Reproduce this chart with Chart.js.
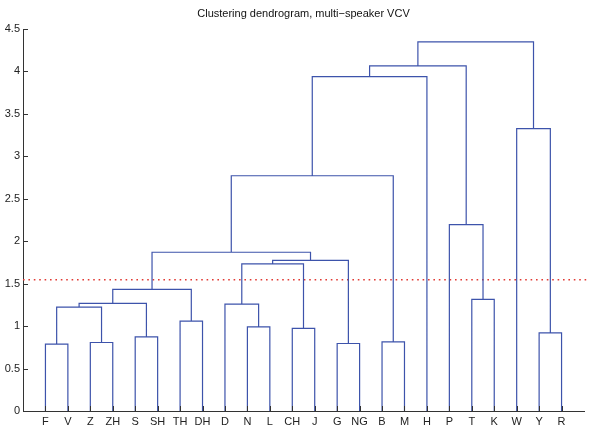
<!DOCTYPE html>
<html>
<head>
<meta charset="utf-8">
<script src="https://cdn.jsdelivr.net/npm/chart.js@4"></script>
<style>
  html, body { margin: 0; padding: 0; background: #fff; }
  #wrap { width: 589px; height: 431px; }
</style>
</head>
<body>
<div id="wrap"><canvas id="myChart" width="589" height="431"></canvas></div>
<script>
// leaf order along the x axis
const leaves = ['F','V','Z','ZH','S','SH','TH','DH','D','N','L','CH','J','G','NG','B','M','H','P','T','K','W','Y','R'];
// merges: left, right, height. numbers < 24 are leaves, 24+ are earlier merges (24 = first merge)
const mergeLeft   = [0, 2, 4, 6, 24, 28, 29,  9,  8, 11, 32, 13, 34, 30, 15, 37, 39, 19, 18, 40, 22, 21, 43];
const mergeRight  = [1, 3, 5, 7, 25, 26, 27, 10, 31, 12, 33, 14, 35, 36, 16, 38, 17, 20, 41, 42, 23, 44, 45];
const mergeHeight = [0.787, 0.807, 0.874, 1.059, 1.224, 1.268, 1.433, 0.992, 1.26, 0.973, 1.732, 0.795, 1.775, 1.87, 0.815, 2.771, 3.94, 1.315, 2.196, 4.066, 0.921, 3.326, 4.349];
const cutoff = 1.547;
const yTicks = [0, 0.5, 1, 1.5, 2, 2.5, 3, 3.5, 4, 4.5];

const TITLE = 'Clustering dendrogram, multi\u2212speaker VCV';
const FONT = 'Arial, "Liberation Sans", Helvetica, sans-serif';

// build the U shapes of the tree
var nodeX = leaves.map((l, i) => i + 1);
var nodeY = leaves.map(() => 0);
var treeData = [];
for (let i = 0; i < mergeHeight.length; i++) {
    let a = mergeLeft[i], b = mergeRight[i], h = mergeHeight[i];
    treeData.push({x: nodeX[a], y: nodeY[a]});
    treeData.push({x: nodeX[a], y: h});
    treeData.push({x: nodeX[b], y: h});
    treeData.push({x: nodeX[b], y: nodeY[b]});
    treeData.push({x: null, y: null});
    nodeX.push((nodeX[a] + nodeX[b]) / 2);
    nodeY.push(h);
}

const titlePlugin = {
    id: 'midTitle',
    afterDraw(chart) {
        const ctx = chart.ctx, a = chart.chartArea;
        ctx.save();
        ctx.font = '11px ' + FONT;
        ctx.fillStyle = '#111';
        ctx.textAlign = 'center';
        ctx.textBaseline = 'middle';
        ctx.fillText(TITLE, (a.left + a.right) / 2, 14);
        ctx.restore();
    }
};

// matlab style ticks pointing into the plot
const inTicks = {
    id: 'inTicks',
    afterDatasetsDraw(chart) {
        const ctx = chart.ctx, a = chart.chartArea;
        const xs = chart.scales.x, ys = chart.scales.y;
        ctx.save();
        ctx.strokeStyle = '#333';
        ctx.lineWidth = 1;
        ctx.beginPath();
        yTicks.forEach(v => {
            let p = Math.round(ys.getPixelForValue(v)) + 0.5;
            ctx.moveTo(a.left, p);
            ctx.lineTo(a.left + 5, p);
        });
        leaves.forEach((l, i) => {
            let p = Math.round(xs.getPixelForValue(i + 1)) + 0.5;
            ctx.moveTo(p, a.bottom);
            ctx.lineTo(p, a.bottom - 5);
        });
        ctx.stroke();
        ctx.restore();
    }
};

const CTX = document.getElementById('myChart').getContext('2d');
const CONFIG = {
    type: 'line',
    data: {
        datasets: [{
            data: treeData,
            borderColor: '#3d53ab',
            borderWidth: 1.2,
            pointRadius: 0,
            spanGaps: false,
            tension: 0
        }, {
            data: [{x: 0, y: cutoff}, {x: 25.25, y: cutoff}],
            borderColor: '#e23a34',
            borderWidth: 1.4,
            borderDash: [1.6, 3.8],
            pointRadius: 0,
            clip: false
        }]
    },
    options: {
        responsive: false,
        animation: false,
        layout: { padding: { top: 29, right: 5, left: 0, bottom: 0 } },
        plugins: {
            legend: { display: false },
            tooltip: { enabled: false },
            title: { display: false }
        },
        scales: {
            x: {
                type: 'linear',
                min: 0,
                max: 25,
                afterBuildTicks: s => { s.ticks = leaves.map((l, i) => ({value: i + 1})); },
                afterFit: s => { s.height = 20; },
                ticks: {
                    autoSkip: false,
                    maxRotation: 0,
                    padding: 4,
                    color: '#222',
                    font: { family: FONT, size: 11 },
                    callback: v => leaves[v - 1]
                },
                grid: { display: true, drawOnChartArea: false, drawTicks: false },
                border: { color: '#333', width: 1 }
            },
            y: {
                type: 'linear',
                min: 0,
                max: 4.5,
                afterBuildTicks: s => { s.ticks = yTicks.map(v => ({value: v})); },
                afterFit: s => { s.width = 23; },
                ticks: {
                    padding: 3,
                    color: '#222',
                    font: { family: FONT, size: 11 },
                    callback: v => String(v)
                },
                grid: { display: true, drawOnChartArea: false, drawTicks: false },
                border: { color: '#333', width: 1 }
            }
        }
    },
    plugins: [titlePlugin, inTicks]
};

var myChart = new Chart(CTX, CONFIG);
</script>
</body>
</html>
